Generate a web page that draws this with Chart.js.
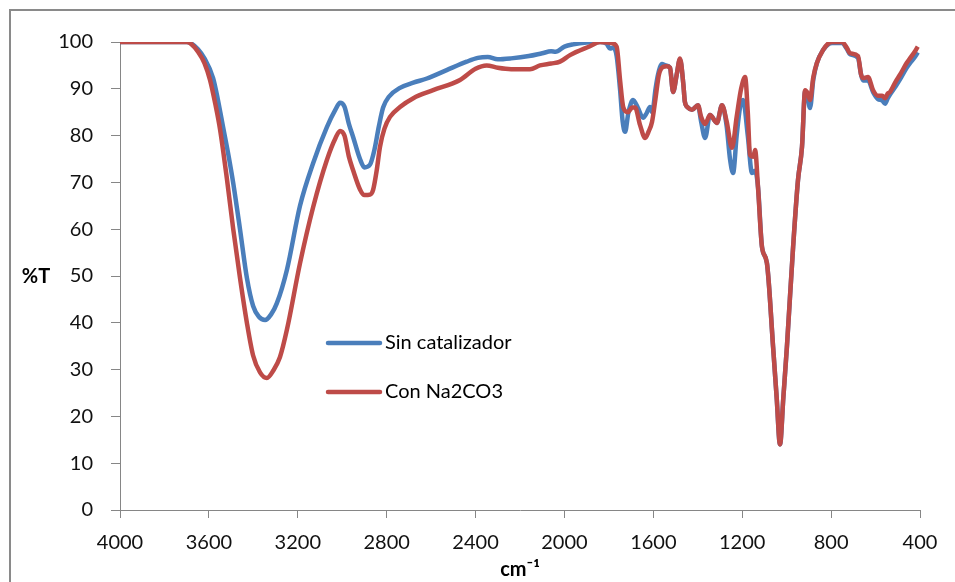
<!DOCTYPE html>
<html>
<head>
<meta charset="utf-8">
<script src="https://cdn.jsdelivr.net/npm/chart.js@4"></script>
<style>
  body { margin: 0; background: #fff; }
  #wrap { width: 955px; height: 582px; }
</style>
</head>
<body>
<div id="wrap"><canvas id="irChart" width="955" height="582"></canvas></div>
<script>
// IR spectra (wavenumber cm-1 / %T)
const seriesNames = ["Sin catalizador", "Con Na2CO3"];
const xTicks = [4000, 3600, 3200, 2800, 2400, 2000, 1600, 1200, 800, 400];

const sinWavenumber = [4000, 3700, 3680, 3650, 3620, 3581, 3560, 3536, 3510, 3491, 3460, 3429, 3401, 3375, 3347, 3320, 3294, 3249, 3190, 3131, 3069, 3030, 3010, 2990, 2970, 2951, 2920, 2900, 2875, 2855, 2835, 2816, 2790, 2740, 2680, 2619, 2530, 2440, 2390, 2345, 2300, 2240, 2160, 2100, 2060, 2040, 2000, 1960, 1900, 1840, 1810, 1795, 1780, 1765, 1750, 1738, 1727, 1712, 1691, 1670, 1646, 1630, 1615, 1605, 1590, 1579, 1561, 1545, 1525, 1511, 1495, 1480, 1465, 1458, 1444, 1426, 1399, 1385, 1367, 1345, 1314, 1291, 1270, 1255, 1241, 1225, 1210, 1196, 1175, 1156, 1142, 1129, 1111, 1089, 1061, 1045, 1030, 1015, 999, 971, 949, 931, 917, 905, 895, 880, 864, 836, 810, 796, 751, 730, 715, 679, 665, 656, 634, 611, 589, 570, 557, 545, 535, 510, 490, 460, 445, 420, 410];
const sinT = [100, 100, 99.7, 98.5, 96.5, 92.3, 87.8, 81.8, 75.3, 70, 60, 49.6, 43.6, 41.3, 40.6, 41.8, 44.2, 51.3, 65, 74.1, 81.8, 85.6, 87, 86.2, 82.5, 79.7, 75, 73.2, 73.8, 77, 82, 86, 88.3, 90.2, 91.3, 92.2, 94, 95.8, 96.6, 96.8, 96.3, 96.5, 97, 97.6, 98, 97.9, 99, 99.5, 99.9, 100, 99.6, 98.6, 98.8, 97, 90, 83, 80.8, 85, 87.6, 86, 83.8, 84.8, 86.1, 85, 90, 93, 95.3, 95, 94.5, 89.3, 93, 96.3, 91, 87.2, 86, 85.5, 86.5, 83, 79.5, 84.4, 82.7, 86.5, 82, 75, 72, 80, 86, 87.6, 80, 72, 72.5, 69, 56.2, 52.8, 34.8, 24, 14, 24, 34.8, 56.2, 70.5, 77.6, 89.5, 88, 85.9, 92, 95.5, 98.3, 99.6, 99.8, 99.8, 98.6, 97.4, 96.6, 93, 91.8, 91.8, 89.3, 87.8, 87.5, 86.8, 88, 88.8, 90.5, 92, 94.5, 95.5, 97, 97.8];

const conWavenumber = [4000, 3700, 3680, 3650, 3620, 3595, 3570, 3550, 3519, 3491, 3460, 3429, 3401, 3370, 3339, 3310, 3280, 3249, 3190, 3131, 3069, 3030, 3010, 2990, 2970, 2951, 2920, 2900, 2875, 2861, 2845, 2830, 2810, 2785, 2740, 2680, 2591, 2470, 2400, 2350, 2300, 2240, 2155, 2110, 2060, 2020, 1975, 1885, 1840, 1790, 1765, 1750, 1735, 1714, 1695, 1682, 1660, 1637, 1620, 1606, 1590, 1575, 1556, 1540, 1525, 1511, 1495, 1480, 1465, 1458, 1444, 1426, 1399, 1385, 1367, 1345, 1314, 1291, 1270, 1246, 1225, 1205, 1187, 1175, 1165, 1150, 1142, 1129, 1111, 1089, 1061, 1045, 1030, 1015, 999, 971, 949, 931, 917, 905, 895, 880, 864, 836, 810, 796, 751, 730, 715, 679, 665, 656, 634, 611, 589, 570, 557, 545, 535, 510, 490, 460, 445, 420, 410];
const conT = [100, 100, 99.6, 98, 95.5, 91.9, 86.5, 81.4, 70.8, 60.2, 49.6, 40, 33, 29.4, 28.2, 29.8, 32.7, 38.5, 52.7, 64.7, 74.8, 79.5, 81, 80, 75.5, 72.6, 68.5, 67.3, 67.4, 68.4, 72.5, 77.6, 81.5, 84, 86.1, 88, 89.7, 91.9, 94.3, 95, 94.5, 94.2, 94.2, 95, 95.4, 95.8, 97.2, 99.1, 100, 99.8, 99, 92, 86, 85, 86, 86, 82.3, 79.5, 81, 82.9, 88, 93, 94.7, 94.8, 94.5, 89.3, 93, 96.5, 91, 87.2, 86, 85.5, 86.5, 84, 82.5, 84.4, 82.7, 86.5, 83, 77.4, 84, 90, 92.5, 85, 75.9, 75.5, 76.9, 69, 56.2, 52.8, 34.8, 24, 14, 24, 34.8, 56.2, 70.5, 77.6, 89.7, 89, 87.6, 92.5, 95.5, 98.3, 99.8, 100, 100, 98.8, 97.6, 97, 93, 92.3, 92.5, 89.7, 88.5, 88.5, 88, 89, 89.3, 91.5, 93, 95.5, 96.5, 98.2, 99];

function toPoints(xs, ys) {
  return xs.map((x, i) => ({ x: x, y: ys[i] }));
}

const FONT = "Lato";
const AXIS_GREY = "#868686";

// frame, %T label and the in-plot legend
const decorations = {
  id: "decorations",
  beforeDraw(chart) {
    const ctx = chart.ctx;
    ctx.save();
    ctx.fillStyle = "#fff";
    ctx.fillRect(0, 0, chart.width, chart.height);
    ctx.strokeStyle = "#8a8a8a";
    ctx.lineWidth = 2;
    ctx.strokeRect(10, 10, chart.width + 20, chart.height + 20);
    ctx.restore();
  },
  afterDraw(chart) {
    const ctx = chart.ctx;
    const area = chart.chartArea;
    ctx.save();
    ctx.font = "bold 20px " + FONT;
    ctx.fillStyle = "#000";
    ctx.textAlign = "center";
    ctx.textBaseline = "middle";
    ctx.fillText("%T", 36, (area.top + area.bottom) / 2 + 1);

    ctx.font = "20px " + FONT;
    ctx.textAlign = "left";
    chart.data.datasets.forEach((ds, i) => {
      const y = area.top + 301 + i * 49;
      const x0 = area.left + 208;
      ctx.strokeStyle = ds.borderColor;
      ctx.lineWidth = 4.5;
      ctx.lineCap = "round";
      ctx.beginPath();
      ctx.moveTo(x0, y);
      ctx.lineTo(x0 + 52, y);
      ctx.stroke();
      ctx.fillText(ds.label, x0 + 57, y);
    });
    ctx.restore();
  }
};

const ctx = document.getElementById("irChart").getContext("2d");
new Chart(ctx, {
  type: "line",
  data: {
    datasets: [
      {
        label: seriesNames[0],
        data: toPoints(sinWavenumber, sinT),
        borderColor: "#4a7ebb",
        borderWidth: 4.5,
        pointRadius: 0,
        cubicInterpolationMode: "monotone",
        order: 1
      },
      {
        label: seriesNames[1],
        data: toPoints(conWavenumber, conT),
        borderColor: "#be4b48",
        borderWidth: 4.5,
        pointRadius: 0,
        cubicInterpolationMode: "monotone",
        order: 0
      }
    ]
  },
  options: {
    responsive: false,
    animation: false,
    layout: { padding: { top: 42, right: 35, left: 0, bottom: 0 } },
    plugins: {
      legend: { display: false },
      tooltip: { enabled: false }
    },
    scales: {
      x: {
        type: "linear",
        reverse: true,
        min: 400,
        max: 4000,
        afterBuildTicks: (scale) => { scale.ticks = xTicks.map(v => ({ value: v })); },
        afterFit: (scale) => { scale.height = 72; },
        ticks: {
          padding: 13,
          color: "#111",
          font: { family: FONT, size: 20 },
          callback: (v) => String(v)
        },
        grid: { drawOnChartArea: false, drawTicks: true, tickLength: 8, color: AXIS_GREY },
        border: { color: AXIS_GREY },
        title: {
          display: true,
          text: "cm\u207B\u00B9",
          color: "#000",
          font: { family: FONT, size: 20, weight: "bold" },
          padding: { top: 0, bottom: 0 }
        }
      },
      y: {
        min: 0,
        max: 100,
        afterFit: (scale) => { scale.width = 120; },
        ticks: {
          stepSize: 10,
          padding: 18,
          color: "#111",
          font: { family: FONT, size: 20 }
        },
        grid: { drawOnChartArea: false, drawTicks: true, tickLength: 9, color: AXIS_GREY },
        border: { color: AXIS_GREY }
      }
    }
  },
  plugins: [decorations]
});
</script>
</body>
</html>
